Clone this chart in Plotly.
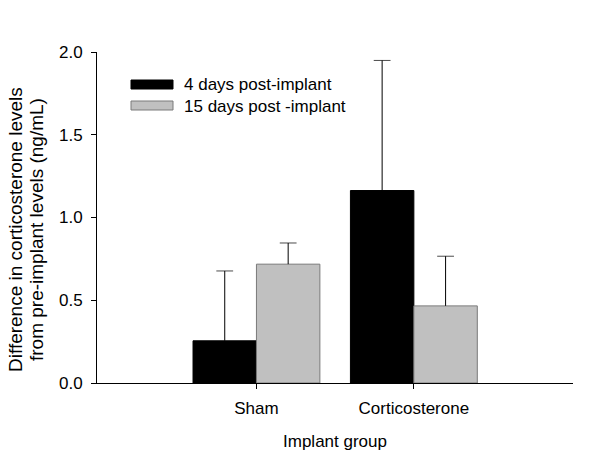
import plotly.graph_objects as go

categories = ["Sham", "Corticosterone"]
series_names = ["4 days post-implant", "15 days post -implant"]
days4_values = [0.255, 1.163]
days4_errors = [0.422, 0.786]
days15_values = [0.718, 0.466]
days15_errors = [0.128, 0.300]
y_ticks = [0.0, 0.5, 1.0, 1.5, 2.0]
y_title_lines = ["Difference in corticosterone levels", "from pre-implant levels (ng/mL)"]
x_title = "Implant group"

W, H = 600, 456
ML, MR, MT, MB = 97, 27, 52, 73
PW, PH = W - ML - MR, H - MT - MB
GAP = 0.194


def px(x):
    return (x - ML) / PW


def py(y):
    return (H - MB - y) / PH


FONT = "Liberation Sans, Arial, sans-serif"
FS = 17

series = [
    (series_names[0], days4_values, days4_errors, "#000000", "#000000", "a"),
    (series_names[1], days15_values, days15_errors, "#c0c0c0", "#7a7a7a", "b"),
]

fig = go.Figure()
for name, vals, errs, fill, edge, grp in series:
    fig.add_trace(go.Bar(
        x=categories, y=vals, name=name, offsetgroup=grp,
        marker=dict(color=fill, line=dict(color=edge, width=1)),
    ))
for name, vals, errs, fill, edge, grp in series:
    # upward-only error bars: stem from bar top to top + error, cap at the end
    ex, ey, sizes = [], [], []
    for c, v, e in zip(categories, vals, errs):
        ex += [c, c, None]
        ey += [v, v + e, None]
        sizes += [0, 12, 0]
    fig.add_trace(go.Scatter(
        x=ex, y=ey, mode="lines+markers", offsetgroup=grp, name=name + " error",
        line=dict(color="#000000", width=1),
        marker=dict(symbol="line-ew", size=sizes, line=dict(color="#000000", width=1)),
        connectgaps=False, showlegend=False, hoverinfo="skip",
    ))

# legend drawn as swatches + labels
swatches = [((131, 80, 173, 89), "#000000", "#000000"),
            ((131, 101, 173, 110), "#c0c0c0", "#7a7a7a")]
shapes = []
annotations = []
for (x0, y0, x1, y1), fill, line in swatches:
    shapes.append(dict(type="rect", xref="paper", yref="paper",
                       x0=px(x0), x1=px(x1), y0=py(y1), y1=py(y0),
                       fillcolor=fill, line=dict(color=line, width=1)))
for name, yc in zip(series_names, [85, 106]):
    annotations.append(dict(text=name, xref="paper", yref="paper", x=px(182), y=py(yc),
                            xanchor="left", yanchor="middle", showarrow=False,
                            font=dict(size=FS, color="#000000", family=FONT)))

# y-axis title (two rotated lines)
for line, xc in zip(y_title_lines, [15, 36]):
    annotations.append(dict(text=line, xref="paper", yref="paper", x=px(xc), y=py(230),
                            xanchor="center", yanchor="middle", textangle=-90, showarrow=False,
                            font=dict(size=19, color="#000000", family=FONT)))

fig.update_layout(
    width=W, height=H,
    margin=dict(l=ML, r=MR, t=MT, b=MB, pad=0, autoexpand=False),
    paper_bgcolor="white", plot_bgcolor="white",
    barmode="group", bargap=GAP, bargroupgap=0,
    scattermode="group", scattergap=GAP,
    showlegend=False,
    font=dict(family=FONT, size=FS, color="#000000"),
    shapes=shapes, annotations=annotations,
    xaxis=dict(
        range=[-1.013, 2.011], showline=True, linecolor="#000000", linewidth=1,
        ticks="outside", ticklen=5, tickcolor="#000000", showgrid=False, zeroline=False,
        tickfont=dict(size=FS), ticklabelstandoff=5, automargin=False,
        title=dict(text=x_title, font=dict(size=FS), standoff=17),
    ),
    yaxis=dict(
        range=[0, 2.0], tickvals=y_ticks, tickformat=".1f",
        showline=True, linecolor="#000000", linewidth=1,
        ticks="outside", ticklen=5, tickcolor="#000000", showgrid=False, zeroline=False,
        tickfont=dict(size=FS), ticklabelstandoff=5, automargin=False,
    ),
)

fig.write_html("out.html", config={"displayModeBar": False},
               post_script="document.body.style.margin='0';")
